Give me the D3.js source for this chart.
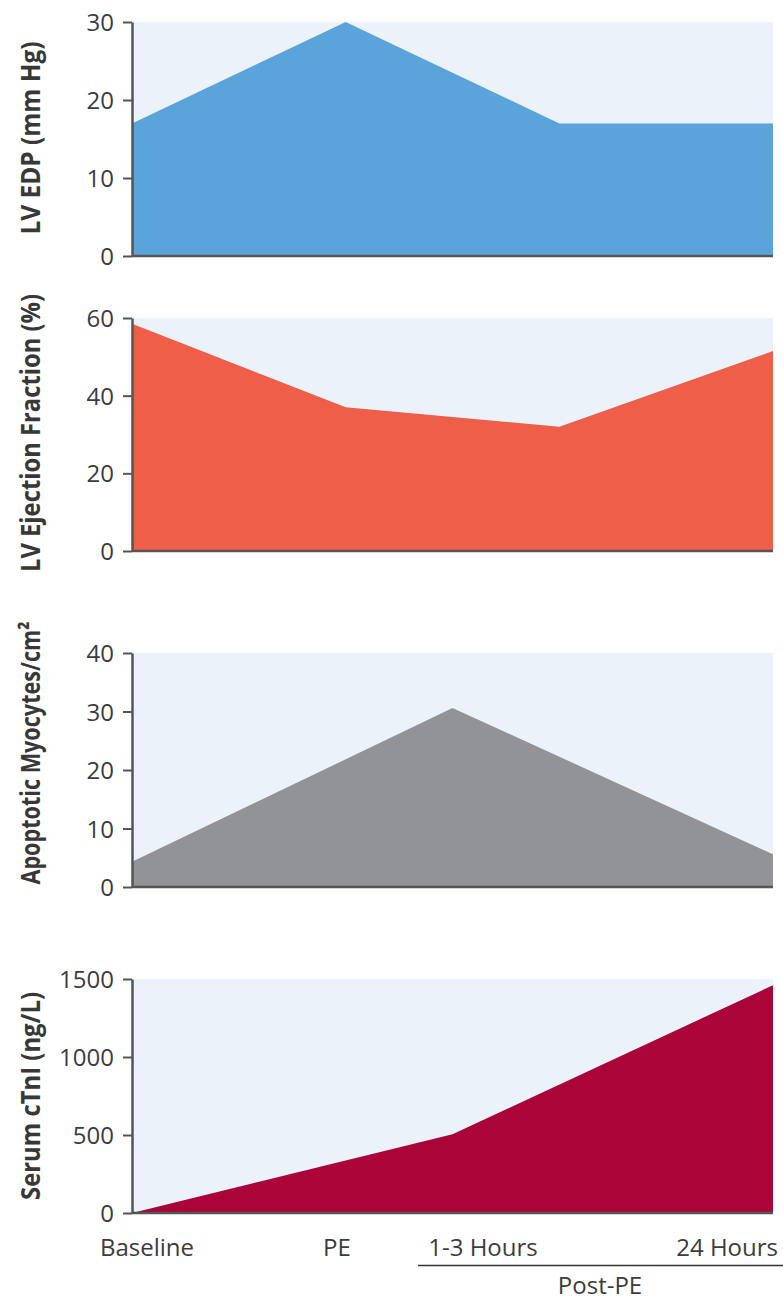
<!DOCTYPE html>
<html>
<head>
<meta charset="utf-8">
<script src="https://cdn.jsdelivr.net/npm/d3@7"></script>
<style>
  body { margin: 0; background: #fff; }
  svg { display: block; font-family: "Open Sans", "Noto Sans", sans-serif; }
</style>
</head>
<body>
<div id="chart"></div>
<script>
// time points shown on the shared x axis
const timeLabels = ["Baseline", "PE", "1-3 Hours", "24 Hours"];

// series values
const edpValues = [17, 30, 17, 17];          // LV EDP (mm Hg), 4 points
const efValues = [58.5, 37, 32, 51.5];       // LV ejection fraction (%), 4 points
const apoptosisValues = [4.3, 30.6, 5.6];    // apoptotic myocytes/cm2, 3 points
const ctniValues = [0, 505, 1460];           // serum cTnI (ng/L), 3 points

// y axis ticks per panel
const edpTicks = [0, 10, 20, 30];
const efTicks = [0, 20, 40, 60];
const apoptosisTicks = [0, 10, 20, 30, 40];
const ctniTicks = [0, 500, 1000, 1500];

const width = 783, height = 1300;
const left = 132, right = 773;
const fontFamily = '"Open Sans", "Noto Sans", sans-serif';

// titleY / titleLen: where the rotated axis title sits and how long it runs
const panels = [
  { title: "LV EDP (mm Hg)", values: edpValues, ticks: edpTicks, max: 30, top: 22, bottom: 256, color: "#5aa4db", titleY: 138, titleLen: 193 },
  { title: "LV Ejection Fraction (%)", values: efValues, ticks: efTicks, max: 60, top: 318, bottom: 551, color: "#ef5e48", titleY: 433, titleLen: 278 },
  { title: "Apoptotic Myocytes/cm\u00b2", values: apoptosisValues, ticks: apoptosisTicks, max: 40, top: 653, bottom: 887, color: "#929397", titleY: 753, titleLen: 263 },
  { title: "Serum cTnI (ng/L)", values: ctniValues, ticks: ctniTicks, max: 1500, top: 979, bottom: 1213, color: "#aa0439", titleY: 1096, titleLen: 208 }
];

const svg = d3.select("#chart").append("svg")
  .attr("width", width)
  .attr("height", height);

panels.forEach(p => {
  // points spread evenly across the plot width
  const x = d3.scaleLinear().domain([0, p.values.length - 1]).range([left, right]);
  const y = d3.scaleLinear().domain([0, p.max]).range([p.bottom, p.top]);

  const g = svg.append("g");

  // light background
  g.append("rect")
    .attr("x", left)
    .attr("y", p.top)
    .attr("width", right - left)
    .attr("height", p.bottom - p.top)
    .attr("fill", "#ebf2fa");

  const area = d3.area()
    .x((d, i) => x(i))
    .y0(y(0))
    .y1(d => y(d));

  g.append("path")
    .datum(p.values)
    .attr("d", area)
    .attr("fill", p.color);

  // y axis
  const yAxis = g.append("g")
    .attr("transform", `translate(${left},0)`)
    .call(d3.axisLeft(y).tickValues(p.ticks).tickFormat(d3.format("d"))
      .tickSize(9).tickPadding(9).tickSizeOuter(0))
    .attr("font-family", fontFamily)
    .attr("font-size", 24);
  yAxis.select(".domain").attr("stroke", "#555").attr("stroke-width", 2.5);
  yAxis.selectAll(".tick line").attr("stroke", "#555").attr("stroke-width", 2);
  yAxis.selectAll(".tick text")
    .attr("fill", "#3c3c3c")
    .attr("dy", "0.36em");

  // baseline
  g.append("line")
    .attr("x1", left).attr("x2", right)
    .attr("y1", p.bottom).attr("y2", p.bottom)
    .attr("stroke", "#555")
    .attr("stroke-width", 2.5);

  // y title (the original face is condensed, so squeeze to its length)
  g.append("text")
    .attr("transform", `translate(40,${p.titleY}) rotate(-90)`)
    .attr("text-anchor", "middle")
    .attr("fill", "#383838")
    .attr("textLength", p.titleLen)
    .attr("lengthAdjust", "spacingAndGlyphs")
    .style("font-size", "26px")
    .style("font-weight", "700")
    .text(p.title);
});

// x labels under the last panel
const labelPos = [
  { x: 100, anchor: "start" },
  { x: 337, anchor: "middle" },
  { x: 483, anchor: "middle" },
  { x: 778, anchor: "end" }
];
svg.append("g")
  .selectAll("text")
  .data(timeLabels)
  .join("text")
  .attr("x", (d, i) => labelPos[i].x)
  .attr("y", 1256)
  .attr("text-anchor", (d, i) => labelPos[i].anchor)
  .attr("fill", "#3c3c3c")
  .style("font-size", "24px")
  .text(d => d);

svg.append("line")
  .attr("x1", 418).attr("x2", 783)
  .attr("y1", 1265.5).attr("y2", 1265.5)
  .attr("stroke", "#333")
  .attr("stroke-width", 1.5);

svg.append("text")
  .attr("x", 600)
  .attr("y", 1294)
  .attr("text-anchor", "middle")
  .attr("fill", "#3c3c3c")
  .style("font-size", "24px")
  .text("Post-PE");
</script>
</body>
</html>
